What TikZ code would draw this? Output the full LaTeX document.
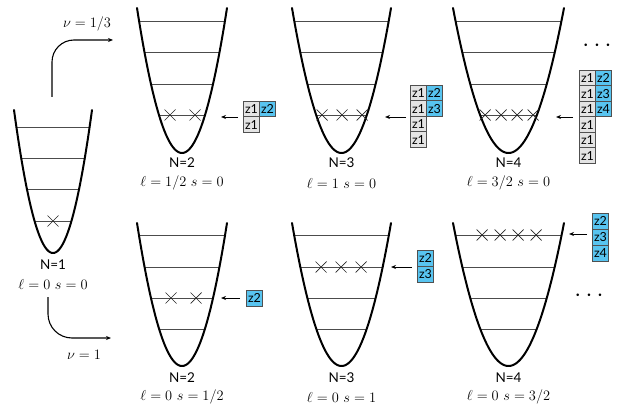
\documentclass[tikz,border=0pt]{standalone}
\usepackage{fontspec}
\setsansfont{Lato}
\usetikzlibrary{arrows.meta}
\definecolor{boxgray}{RGB}{228,228,228}
\definecolor{boxblue}{RGB}{88,196,240}
\definecolor{boxline}{RGB}{80,80,80}
\tikzset{
  well/.style={line width=2pt, line cap=round},
  level/.style={line width=0.8pt, draw=black!70},
  xmark/.style={line width=0.7pt, draw=black!85},
  ybox/.style={draw=boxline, line width=0.9pt, fill=boxgray, minimum width=16pt, minimum height=15.5pt, inner sep=0pt, anchor=north west, font=\sffamily\fontsize{12.5}{12.5}\selectfont},
  bbox/.style={ybox, fill=boxblue},
  nlab/.style={font=\sffamily\fontsize{13.5}{13.5}\selectfont, inner sep=0pt},
  qlab/.style={font=\fontsize{14}{14}\selectfont, inner sep=0pt},
  feed/.style={-{Stealth[length=5pt,width=4pt]}, line width=0.9pt},
  flow/.style={-{Stealth[length=5pt,width=4pt]}, line width=1.1pt},
  dots/.style={font=\fontsize{26}{26}\selectfont, inner sep=0pt}
}
\newcommand\mywell[5]{%
  \begin{scope}
    \clip plot[domain=-1:1, samples=80] ({#1+#3*\x},{#2-#4*\x*\x}) -- cycle;
    \foreach \lv in {#5} \draw[level] (#1-100,\lv) -- (#1+100,\lv);
  \end{scope}
  \draw[well] plot[domain=-1:1, samples=80] ({#1+#3*\x},{#2-#4*\x*\x});
}
\newcommand\myx[2]{\draw[xmark] (#1-5.5,#2-5.5) -- (#1+5.5,#2+5.5) (#1-5.5,#2+5.5) -- (#1+5.5,#2-5.5);}
\begin{document}
\begin{tikzpicture}[x=1pt,y=-1pt]
\useasboundingbox (0,0) rectangle (623,406);
% wells
\mywell{53}{253}{39}{143}{127,158,189,221}
\mywell{182}{153}{45}{145}{21,52,84,115}
\mywell{341.5}{153}{49.5}{145}{21,52,84,115}
\mywell{508.5}{153}{55.5}{145}{21,52,84,115}
\mywell{182}{366}{45}{143}{235,267,298,329}
\mywell{341.5}{366}{49.5}{143}{235,267,298,329}
\mywell{508.5}{366}{55.5}{143}{235,267,298,329}
% particles
\myx{53}{221}
\myx{170}{115}\myx{195}{115}
\myx{322}{115}\myx{342}{115}\myx{362}{115}
\myx{485}{115}\myx{501}{115}\myx{517}{115}\myx{533}{115}
\myx{171}{298}\myx{196}{298}
\myx{321}{267}\myx{341}{267}\myx{361}{267}
\myx{482}{235}\myx{500}{235}\myx{518}{235}\myx{536}{235}
% labels
\node[nlab] (n1) at (53,265) {N=1};
\node[qlab] (q1) at (53,284) {$\ell=0\ s=0$};
\node[nlab] (n2t) at (182,163) {N=2};
\node[qlab] (q2t) at (182,183) {$\ell=1/2\ s=0$};
\node[nlab] (n3t) at (341.5,163) {N=3};
\node[qlab] (q3t) at (341.5,183) {$\ell=1\ s=0$};
\node[nlab] (n4t) at (508.5,163) {N=4};
\node[qlab] (q4t) at (508.5,183) {$\ell=3/2\ s=0$};
\node[nlab] (n2b) at (182,378) {N=2};
\node[qlab] (q2b) at (182,397) {$\ell=0\ s=1/2$};
\node[nlab] (n3b) at (341.5,378) {N=3};
\node[qlab] (q3b) at (341.5,397) {$\ell=0\ s=1$};
\node[nlab] (n4b) at (508.5,378) {N=4};
\node[qlab] (q4b) at (508.5,397) {$\ell=0\ s=3/2$};
% nu arrows
\coordinate (u0) at (52,97);
\coordinate (u1) at (52,40);
\coordinate (u2) at (113,40);
\draw[flow, rounded corners=22pt] (u0) -- (u1) -- (u2);
\node[qlab] (nu1) at (87,24) {$\nu=1/3$};
\coordinate (d0) at (48,297);
\coordinate (d1) at (48,338);
\coordinate (d2) at (111,338);
\draw[flow, rounded corners=24pt] (d0) -- (d1) -- (d2);
\node[qlab] (nu2) at (84,355) {$\nu=1$};
% boxes top N=2
\node[ybox] (a11) at (243,101) {z1};
\node[bbox] (a12) at (259,101) {z2};
\node[ybox] (a21) at (243,116.5) {z1};
\coordinate (as) at (238,117); \coordinate (ae) at (221,117);
\draw[feed] (as) -- (ae);
% boxes top N=3
\node[ybox] (b11) at (410,85) {z1};
\node[bbox] (b12) at (426,85) {z2};
\node[ybox] (b21) at (410,100.5) {z1};
\node[bbox] (b22) at (426,100.5) {z3};
\node[ybox] (b31) at (410,116) {z1};
\node[ybox] (b41) at (410,131.5) {z1};
\coordinate (bs) at (406,117); \coordinate (be) at (385,117);
\draw[feed] (bs) -- (be);
% boxes top N=4
\node[ybox] (c11) at (579,70) {z1};
\node[bbox] (c12) at (595,70) {z2};
\node[ybox] (c21) at (579,85.5) {z1};
\node[bbox] (c22) at (595,85.5) {z3};
\node[ybox] (c31) at (579,101) {z1};
\node[bbox] (c32) at (595,101) {z4};
\node[ybox] (c41) at (579,116.5) {z1};
\node[ybox] (c51) at (579,132) {z1};
\node[ybox] (c61) at (579,147.5) {z1};
\coordinate (cs) at (573,117); \coordinate (ce) at (556,117);
\draw[feed] (cs) -- (ce);
\node[dots] (dt) at (597,46) {$\cdots$};
% boxes bottom N=2
\node[bbox] (e1) at (246,290) {z2};
\coordinate (es) at (240,298); \coordinate (ee) at (221,298);
\draw[feed] (es) -- (ee);
% boxes bottom N=3
\node[bbox] (f1) at (417,250) {z2};
\node[bbox] (f2) at (417,266) {z3};
\coordinate (fs) at (412,267); \coordinate (fe) at (391,267);
\draw[feed] (fs) -- (fe);
% boxes bottom N=4
\node[bbox] (g1) at (592,213) {z2};
\node[bbox] (g2) at (592,229) {z3};
\node[bbox] (g3) at (592,245) {z4};
\coordinate (gs) at (587,234); \coordinate (ge) at (569,234);
\draw[feed] (gs) -- (ge);
\node[dots] (db) at (589,296) {$\cdots$};
\end{tikzpicture}
\end{document}
